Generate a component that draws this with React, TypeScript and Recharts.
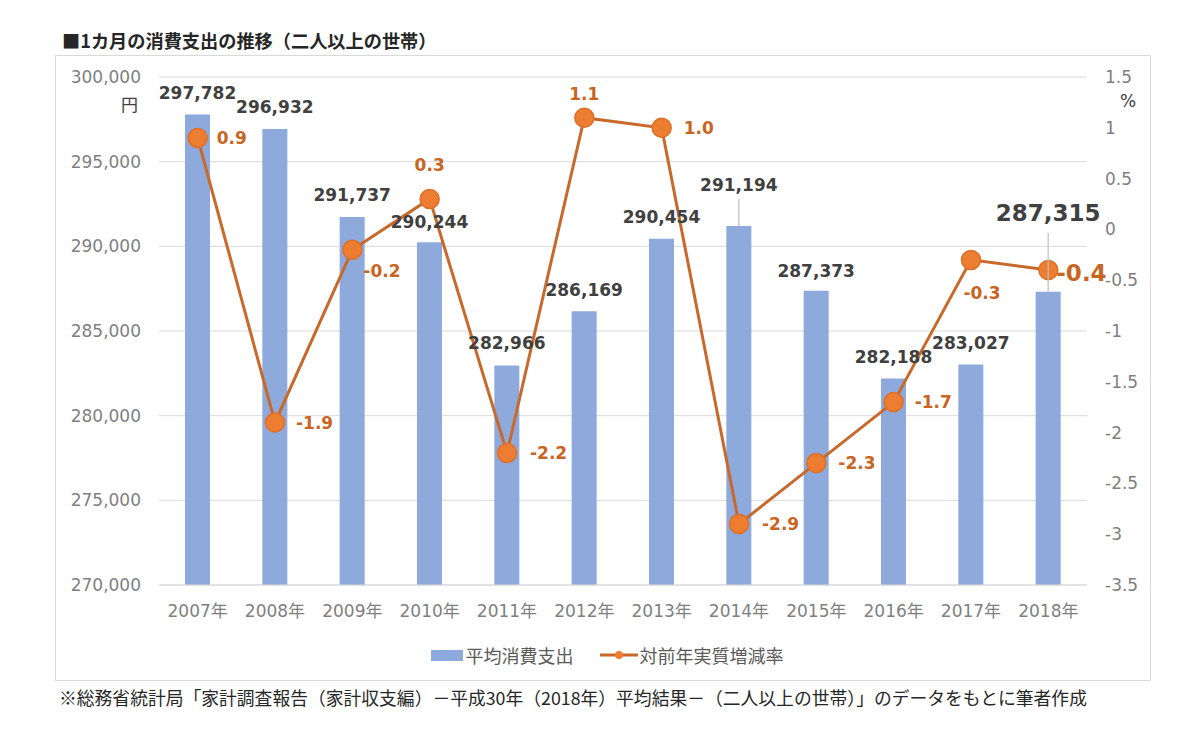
import React from 'react';
import { Bar, CartesianGrid, ComposedChart, LabelList, Line, XAxis, YAxis } from 'recharts';

// 二人以上の世帯 / 1カ月平均
const years = ['2007年', '2008年', '2009年', '2010年', '2011年', '2012年', '2013年', '2014年', '2015年', '2016年', '2017年', '2018年'];
const spending = [297782, 296932, 291737, 290244, 282966, 286169, 290454, 291194, 287373, 282188, 283027, 287315];
const realChange = [0.9, -1.9, -0.2, 0.3, -2.2, 1.1, 1.0, -2.9, -2.3, -1.7, -0.3, -0.4];

const amountTicks = [270000, 275000, 280000, 285000, 290000, 295000, 300000];
const rateTicks = [-3.5, -3, -2.5, -2, -1.5, -1, -0.5, 0, 0.5, 1, 1.5];

const rows = years.map((year, i) => ({ year, spending: spending[i], rate: realChange[i] }));

const BLUE = '#8EA9DB';
const ORANGE = '#ED7D31';
const ORANGE_LINE = '#C8692B';
const ORANGE_TEXT = '#C8651F';
const NUM_FONT = '"DejaVu Sans", "Noto Sans CJK JP", sans-serif';
const JP_FONT = '"Noto Sans CJK JP", "Noto Sans", sans-serif';

// hand-placed label offsets (px), per year
const barLift = [22, 22, 22, 20, 23, 21, 22, 41, 20, 22, 22, 79];
const rateLabelPos: Array<[number, number, 'start' | 'middle']> = [
  [19, 0, 'start'],
  [21, 0, 'start'],
  [11, 21, 'start'],
  [0, -34, 'middle'],
  [23, 0, 'start'],
  [0, -24, 'middle'],
  [22, 0, 'start'],
  [23, 0, 'start'],
  [22, 0, 'start'],
  [21, 0, 'start'],
  [11, 33, 'middle'],
  [8, 3, 'start'],
];

function SpendingLabel(props: any) {
  const { x, y, width, value, index } = props;
  const cx = Number(x) + Number(width) / 2;
  const top = Number(y);
  const lift = barLift[index] ?? 22;
  const big = index === years.length - 1;
  return (
    <g>
      {lift > 30 && (
        <line x1={cx} x2={cx} y1={top - lift + (big ? 20 : 14)} y2={top} stroke="#BFBFBF" strokeWidth={1.2} />
      )}
      <text
        x={cx}
        y={top - lift}
        dy="0.36em"
        textAnchor="middle"
        fontFamily={NUM_FONT}
        fontWeight="bold"
        fontSize={big ? 23 : 17}
        fill="#404040"
      >
        {Number(value).toLocaleString('en-US')}
      </text>
    </g>
  );
}

function RateLabel(props: any) {
  const { x, y, value, index } = props;
  const [dx, dy, anchor] = rateLabelPos[index] ?? [20, 0, 'start'];
  const big = index === years.length - 1;
  return (
    <text
      x={Number(x) + dx}
      y={Number(y) + dy}
      dy="0.36em"
      textAnchor={anchor}
      fontFamily={NUM_FONT}
      fontWeight="bold"
      fontSize={big ? 23 : 17}
      fill={ORANGE_TEXT}
    >
      {Number(value).toFixed(1)}
    </text>
  );
}

function LegendBox() {
  return (
    <div
      style={{
        position: 'absolute',
        left: 0,
        top: 642,
        width: 1200,
        display: 'flex',
        justifyContent: 'center',
        alignItems: 'center',
        gap: 26,
        fontFamily: JP_FONT,
        fontSize: 18,
        color: '#595959',
        paddingLeft: 14,
        boxSizing: 'border-box',
      }}
    >
      <span style={{ display: 'flex', alignItems: 'center' }}>
        <span style={{ display: 'inline-block', width: 32, height: 11, background: BLUE, marginRight: 3 }} />
        平均消費支出
      </span>
      <span style={{ display: 'flex', alignItems: 'center' }}>
        <svg width={38} height={12} style={{ marginRight: 2 }}>
          <line x1={0} x2={38} y1={6} y2={6} stroke={ORANGE_LINE} strokeWidth={3} />
          <circle cx={19} cy={6} r={4} fill={ORANGE} />
        </svg>
        対前年実質増減率
      </span>
    </div>
  );
}

const tickStyle = { fill: '#7F7F7F', fontSize: 17, fontFamily: NUM_FONT };

export default function App() {
  return (
    <div style={{ position: 'absolute', left: 0, top: 0, width: 1200, height: 752, background: '#fff' }}>
      <div
        style={{
          position: 'absolute',
          left: 62,
          top: 27,
          fontFamily: JP_FONT,
          fontWeight: 'bold',
          fontSize: 18.2,
          color: '#262626',
          lineHeight: '26px',
        }}
      >
        ■1カ月の消費支出の推移（二人以上の世帯）
      </div>
      <div
        style={{
          position: 'absolute',
          left: 55,
          top: 55,
          width: 1094,
          height: 624,
          border: '1px solid #D9D9D9',
        }}
      />
      <div style={{ position: 'absolute', left: 0, top: 0 }}>
        <ComposedChart
          width={1200}
          height={752}
          data={rows}
          margin={{ top: 77, right: 53, bottom: 137, left: 59 }}
        >
          <CartesianGrid vertical={false} stroke="#D9D9D9" yAxisId="amount" />
          <XAxis
            dataKey="year"
            height={30}
            tick={tickStyle}
            tickLine={false}
            axisLine={{ stroke: '#D9D9D9' }}
            tickMargin={14}
            interval={0}
          />
          <YAxis
            yAxisId="amount"
            domain={[270000, 300000]}
            ticks={amountTicks}
            tick={tickStyle}
            tickLine={false}
            axisLine={false}
            width={100}
            tickMargin={12}
            tickFormatter={(v: number) => v.toLocaleString('en-US')}
          />
          <YAxis
            yAxisId="rate"
            orientation="right"
            domain={[-3.5, 1.5]}
            ticks={rateTicks}
            tick={tickStyle}
            tickLine={false}
            axisLine={false}
            width={60}
            tickMargin={12}
          />
          <Bar yAxisId="amount" dataKey="spending" fill={BLUE} barSize={25} isAnimationActive={false}>
            <LabelList dataKey="spending" content={<SpendingLabel />} />
          </Bar>
          <Line
            yAxisId="rate"
            dataKey="rate"
            type="linear"
            stroke={ORANGE_LINE}
            strokeWidth={3}
            dot={{ r: 9.5, fill: ORANGE, stroke: '#DD7029', strokeWidth: 1.5 }}
            activeDot={false}
            isAnimationActive={false}
          >
            <LabelList dataKey="rate" content={<RateLabel />} />
          </Line>
        </ComposedChart>
      </div>
      <LegendBox />
      <div
        style={{
          position: 'absolute',
          left: 121,
          top: 91,
          fontFamily: JP_FONT,
          fontSize: 17,
          color: '#404040',
        }}
      >
        円
      </div>
      <div
        style={{
          position: 'absolute',
          left: 1120,
          top: 91,
          fontFamily: NUM_FONT,
          fontSize: 17,
          color: '#404040',
        }}
      >
        %
      </div>
      <div
        style={{
          position: 'absolute',
          left: 59,
          top: 684,
          fontFamily: JP_FONT,
          fontSize: 17.8,
          color: '#262626',
          whiteSpace: 'nowrap',
          lineHeight: '26px',
        }}
      >
        ※総務省統計局「家計調査報告（家計収支編）－平成30年（2018年）平均結果－（二人以上の世帯）」のデータをもとに筆者作成
      </div>
    </div>
  );
}
